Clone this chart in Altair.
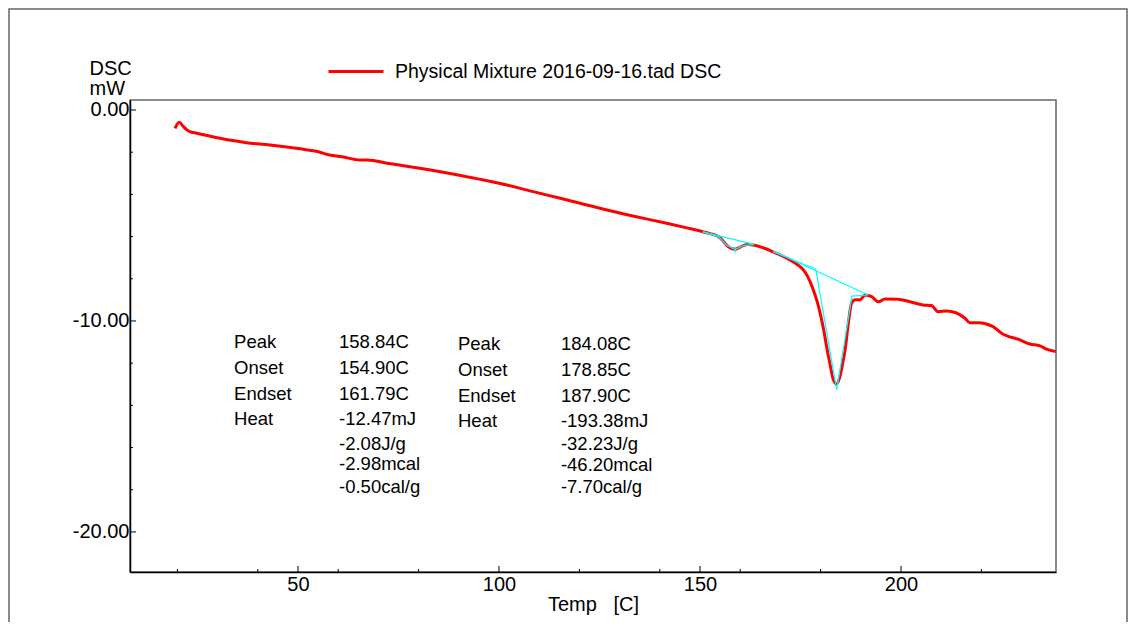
import altair as alt
import pandas as pd

# ---------------- data ----------------
temp = [19.4, 20.5, 21.5, 23.1, 24.8, 30.6, 37.2, 43.0, 50.0, 55.5, 57.1, 61.0,
        65.4, 67.1, 73.0, 80.3, 92.0, 100.0, 108.5, 116.0, 125.1, 133.0, 141.7,
        147.0, 150.7, 152.5, 154.6, 155.8, 156.6, 157.6, 158.7, 159.8, 160.8,
        162.0, 163.3, 165.5, 168.2, 170.5, 172.4, 174.0, 175.6, 176.8, 178.2,
        179.1, 179.9, 180.8, 181.5, 182.4, 183.2, 184.0, 184.8, 185.5, 186.1,
        186.9, 187.7, 188.6, 189.8, 191.1, 192.7, 194.4, 196.0, 199.3, 202.2,
        205.5, 207.6, 209.2, 211.4, 215.9, 217.1, 219.2, 222.9, 225.0, 229.6,
        232.0, 234.6, 236.2, 238.5]
dsc = [-0.87, -0.58, -0.79, -1.03, -1.10, -1.34, -1.55, -1.66, -1.83, -2.00,
       -2.10, -2.22, -2.37, -2.37, -2.55, -2.76, -3.16, -3.47, -3.87, -4.22,
       -4.66, -5.01, -5.37, -5.60, -5.77, -5.86, -6.00, -6.22, -6.40, -6.55,
       -6.60, -6.52, -6.43, -6.38, -6.40, -6.52, -6.72, -6.92, -7.11, -7.30,
       -7.55, -7.90, -8.53, -9.05, -9.64, -10.45, -11.22, -12.10, -12.80,
       -12.99, -12.64, -12.00, -11.37, -10.11, -9.16, -9.00, -9.00, -8.77,
       -8.85, -9.09, -8.96, -8.97, -9.09, -9.24, -9.27, -9.56, -9.53, -9.87,
       -10.08, -10.08, -10.27, -10.58, -10.90, -11.09, -11.18, -11.34, -11.45]
series_name = "Physical Mixture 2016-09-16.tad DSC"

# cyan analysis lines (baselines / tangents / peak markers)
cy_seg = ["a", "a",
          "b", "b", "b", "b", "b", "b",
          "c", "c",
          "d", "d",
          "e", "e",
          "f", "f",
          "g", "g",
          "h", "h"]
cy_x = [150.7, 163.5,
        150.7, 154.6, 156.6, 158.7, 160.8, 163.3,
        158.7, 158.7,
        168.2, 191.8,
        168.2, 178.8,
        178.8, 184.0,
        184.0, 187.8,
        187.8, 191.8]
cy_y = [-5.78, -6.37,
        -5.78, -6.00, -6.40, -6.62, -6.43, -6.38,
        -6.48, -6.79,
        -6.68, -8.77,
        -6.72, -7.54,
        -7.54, -13.27,
        -13.27, -8.82,
        -8.82, -8.77]

x_labels = [50, 100, 150, 200]
x_minor = [20, 40, 60, 80, 120, 140, 160, 180, 220]
y_labels = [0, -10, -20]
y_minor = [-2, -4, -6, -8, -12, -14, -16, -18]

ann_names = ["Peak", "Onset", "Endset", "Heat"]
ann_vals_1 = ["158.84C", "154.90C", "161.79C", "-12.47mJ", "-2.08J/g",
              "-2.98mcal", "-0.50cal/g"]
ann_vals_2 = ["184.08C", "178.85C", "187.90C", "-193.38mJ", "-32.23J/g",
              "-46.20mcal", "-7.70cal/g"]

# ---------------- layout ----------------
W, H = 926, 472
FONT = "Liberation Sans"
xs = alt.Scale(domain=[8.21, 238.56], nice=False, zero=False)
ys = alt.Scale(domain=[-21.9, 0.474], nice=False, zero=False)

row_y_1 = [-10.98, -12.21, -13.46, -14.64, -15.83, -16.78, -17.87]
row_y_2 = [-11.09, -12.32, -13.55, -14.74, -15.83, -16.82, -17.87]
col_x = [34.1, 60.2, 89.8, 115.4]

curve = pd.DataFrame({"x": temp, "y": dsc, "s": series_name,
                      "i": range(len(temp))})
cyan = pd.DataFrame({"x": cy_x, "y": cy_y, "seg": cy_seg,
                     "i": range(len(cy_x))})

txt_rows = []
for k, n in enumerate(ann_names):
    txt_rows.append({"x": col_x[0], "y": row_y_1[k], "t": n})
    txt_rows.append({"x": col_x[2], "y": row_y_2[k], "t": n})
for k, v in enumerate(ann_vals_1):
    txt_rows.append({"x": col_x[1], "y": row_y_1[k], "t": v})
for k, v in enumerate(ann_vals_2):
    txt_rows.append({"x": col_x[3], "y": row_y_2[k], "t": v})
texts = pd.DataFrame(txt_rows)

ax_x = alt.Axis(values=x_labels, format="d",
                title="Temp\u00a0\u00a0\u00a0[C]",
                labelPadding=2, titlePadding=0)
ax_y = alt.Axis(values=y_labels,
                labelExpr="(datum.value < 0 ? '-' : '') + format(abs(datum.value), '.2f')",
                title=["DSC", "mW"],
                labelPadding=1, titleAngle=0, titleAlign="left",
                titleBaseline="alphabetic", titleX=-41, titleY=-26,
                titleLineHeight=20)


def X():
    return alt.X("x:Q", scale=xs, axis=ax_x)


def Y():
    return alt.Y("y:Q", scale=ys, axis=ax_y)


frame = alt.Chart(alt.Data(values=[{"a": 1}])).mark_rect(
    filled=False, stroke="#666666", strokeWidth=1.5
).encode(
    x=alt.value(-121), x2=alt.value(997), y=alt.value(-91), y2=alt.value(560)
)

line = alt.Chart(curve).mark_line(
    strokeWidth=3, interpolate="monotone"
).encode(
    x=X(), y=Y(),
    color=alt.Color("s:N", scale=alt.Scale(range=["#FF0000"]),
                    legend=alt.Legend(orient="none", legendX=197, legendY=-57.5,
                                      title=None, symbolType="stroke",
                                      symbolSize=3025, symbolStrokeWidth=3,
                                      labelFontSize=19.5, labelFont=FONT,
                                      labelColor="black", labelOffset=10,
                                      labelLimit=0, padding=0)),
    order="i:Q",
)

cyan_lines = alt.Chart(cyan).mark_line(color="#00FFFF", strokeWidth=1.2).encode(
    x=X(), y=Y(), detail="seg:N", order="i:Q",
)

xt_major = alt.Chart(pd.DataFrame({"x": x_labels})).mark_rule(
    color="black", strokeWidth=1).encode(
    x=X(), y=alt.value(H), y2=alt.value(H - 6))
xt_minor = alt.Chart(pd.DataFrame({"x": x_minor})).mark_rule(
    color="black", strokeWidth=1).encode(
    x=X(), y=alt.value(H), y2=alt.value(H - 3))
yt_major = alt.Chart(pd.DataFrame({"y": y_labels})).mark_rule(
    color="black", strokeWidth=1).encode(
    y=Y(), x=alt.value(0), x2=alt.value(6))
yt_minor = alt.Chart(pd.DataFrame({"y": y_minor})).mark_rule(
    color="black", strokeWidth=1).encode(
    y=Y(), x=alt.value(0), x2=alt.value(3))

ann = alt.Chart(texts).mark_text(
    align="left", baseline="middle", font=FONT, fontSize=18.5, color="black"
).encode(
    x=X(), y=Y(), text="t:N",
)

chart = alt.layer(
    frame, line, cyan_lines, xt_major, xt_minor, yt_major, yt_minor, ann
).properties(
    width=W, height=H,
    autosize=alt.AutoSizeParams(type="none"),
    padding={"left": 122, "top": 92, "right": 72, "bottom": 50},
).configure_view(
    stroke="#666666", strokeWidth=1.5
).configure_axis(
    domainColor="black", domainWidth=1.5, ticks=False, grid=False,
    labelFont=FONT, labelFontSize=20, labelColor="black",
    titleFont=FONT, titleFontSize=20, titleColor="black",
    titleFontWeight="normal", zindex=1,
)

chart.save("out.html", embed_options={"renderer": "svg", "actions": False})
